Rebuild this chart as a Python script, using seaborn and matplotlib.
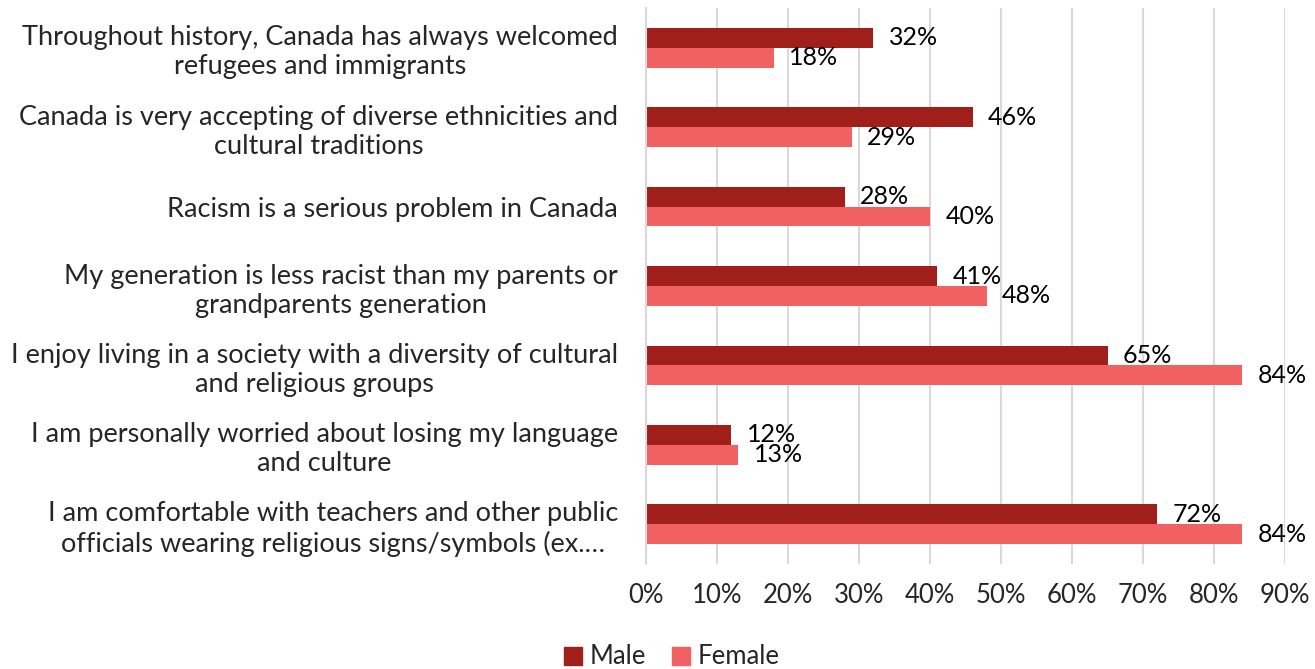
import matplotlib
matplotlib.use("Agg")
import matplotlib.pyplot as plt
import seaborn as sns
import pandas as pd

statements = [
    "Throughout history, Canada has always welcomed\nrefugees and immigrants",
    "Canada is very accepting of diverse ethnicities and\ncultural traditions",
    "Racism is a serious problem in Canada",
    "My generation is less racist than my parents or\ngrandparents generation",
    "I enjoy living in a society with a diversity of cultural\nand religious groups",
    "I am personally worried about losing my language\nand culture",
    "I am comfortable with teachers and other public\nofficials wearing religious signs/symbols (ex.…",
]
male = [32, 46, 28, 41, 65, 12, 72]
female = [18, 29, 40, 48, 84, 13, 84]
groups = ["Male", "Female"]
colors = ["#A01F1B", "#F26161"]
x_ticks = [0, 10, 20, 30, 40, 50, 60, 70, 80, 90]

df = pd.DataFrame({
    "statement": statements * 2,
    "value": male + female,
    "group": [groups[0]] * len(male) + [groups[1]] * len(female),
})

sns.set_style("white")
plt.rcParams["font.family"] = ["Lato", "DejaVu Sans"]

fig = plt.figure(figsize=(13.15, 6.69), dpi=100)
ax = fig.add_axes([646 / 1315, 1 - 564 / 669, (1285 - 646) / 1315, (564 - 8) / 669])

sns.barplot(data=df, y="statement", x="value", hue="group", orient="h",
            palette=colors, width=0.5, ax=ax, legend=False, saturation=1,
            linewidth=0)

for container in ax.containers:
    ax.bar_label(container, labels=[f"{v:.0f}%" for v in container.datavalues],
                 padding=11, fontsize=18, color="black")

ax.set_xlim(0, 90)
ax.set_xticks(x_ticks)
ax.set_xticklabels([f"{t}%" for t in x_ticks], fontsize=18.5)
ax.tick_params(axis="x", length=0, pad=14)
ax.tick_params(axis="y", length=0, pad=20)
for lbl in ax.get_yticklabels():
    lbl.set_fontsize(19.5)
    lbl.set_multialignment("center")
ax.set_xlabel("")
ax.set_ylabel("")
ax.grid(axis="x", color="#D9D9D9", linewidth=1.5)
ax.set_axisbelow(True)
for s in ["top", "right", "bottom"]:
    ax.spines[s].set_visible(False)
ax.spines["left"].set_color("#D9D9D9")
ax.spines["left"].set_linewidth(1.5)

handles = [plt.Rectangle((0, 0), 1, 1, color=c) for c in colors]
fig.legend(handles, groups, loc="center", bbox_to_anchor=(672 / 1315, 1 - 657 / 669),
           ncol=2, frameon=False, fontsize=18.5, handlelength=0.7, handleheight=0.7,
           handletextpad=0.3, columnspacing=1.0)

fig.savefig("out.png", dpi=100)
